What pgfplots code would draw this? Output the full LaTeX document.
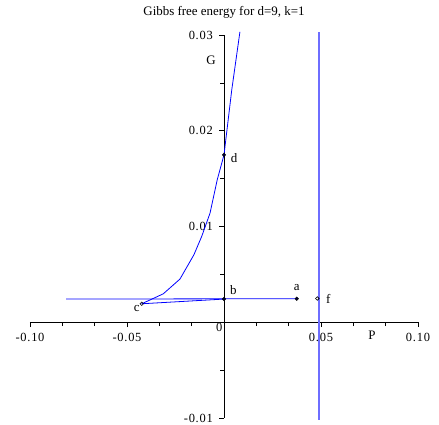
\documentclass[border=0pt]{standalone}
\usepackage{fontspec}
\setmainfont{Liberation Serif}
\newfontfamily\lblfont[LetterSpace=6]{Liberation Serif}
\usepackage{pgfplots}
\pgfplotsset{compat=1.18}
\definecolor{curve}{RGB}{0,0,255}
\definecolor{asym}{RGB}{110,110,255}
\newcommand\lbl{\lblfont\fontsize{12.5}{14}\selectfont}
\newcommand\pt{\rmfamily\fontsize{13}{15}\selectfont}

\begin{document}
\begin{tikzpicture}
\begin{axis}[
  scale only axis, width=388bp, height=383bp,
  xmin=-0.1, xmax=0.1, ymin=-0.01, ymax=0.03,
  clip=false,
  axis lines=middle,
  axis line style={-, black, line width=0.8pt},
  every tick/.style={black, line width=0.6pt},
  tick align=outside,
  major tick length=5bp, minor tick length=4bp,
  xtick={-0.1,-0.05,0.05,0.1},
  xticklabels={{\lbl -0.10},{\lbl -0.05},{\lbl 0.05},{\lbl 0.10}},
  minor xtick={-0.08333,-0.06667,-0.03333,-0.01667,0.01667,0.03333,0.06667,0.08333},
  ytick={-0.01,0.01,0.02,0.03},
  yticklabels={{\lbl -0.01},{\lbl 0.01},{\lbl 0.02},{\lbl 0.03}},
  minor ytick={-0.005,0.005,0.015,0.025},
  xticklabel style={anchor=center, inner sep=0pt, yshift=-10bp},
  yticklabel style={anchor=east, inner sep=0pt, xshift=-6bp},
  scaled ticks=false,
]
% upper branch, nearly flat
\addplot[curve, line width=0.8pt] coordinates {(-0.0814,0.00242) (0.0375,0.00246)};
% branch from the cusp c to b
\addplot[curve, line width=0.8pt] coordinates {(-0.0424,0.00193) (0,0.00242)};
% steep branch through d
\addplot[curve, line width=0.8pt] coordinates {
  (-0.0424,0.00193) (-0.0313,0.00297) (-0.0227,0.00451) (-0.0155,0.00705)
  (-0.0115,0.00896) (-0.0072,0.0114) (-0.0035,0.01487) (0,0.01748)
  (0.0040,0.02427) (0.0082,0.03032)};
% vertical line
\addplot[asym, line width=1.2pt] coordinates {(0.049,-0.0102) (0.049,0.0303)};
% marked points
\addplot[only marks, mark=*, mark size=1.8bp, mark options={black, fill=black!80!blue}]
  coordinates {(0.0375,0.00246) (0,0.00242) (0,0.01748)};
\addplot[only marks, mark=o, mark size=1.8bp, mark options={black, fill=white, line width=0.6pt}]
  coordinates {(-0.0424,0.00193) (0.0481,0.00248)};

\coordinate (bl) at (rel axis cs:0,0);
\coordinate (tr) at (rel axis cs:1,1);

\begin{scope}[every node/.style={inner sep=0pt}]
\node at ([yshift=10.7bp]axis cs:0.0375,0.00246) {\pt a};
\node at ([xshift=9.3bp, yshift=8.6bp]axis cs:0,0.00242) {\pt b};
\node at ([xshift=-5bp, yshift=-4.3bp]axis cs:-0.0424,0.00193) {\pt c};
\node at ([xshift=10bp, yshift=-2.7bp]axis cs:0,0.01748) {\pt d};
\node at ([xshift=11bp]axis cs:0.0481,0.00248) {\pt f};
\node at ([yshift=-13.5bp]axis cs:0.0763,0) {\pt P};
\node at ([xshift=-13bp]axis cs:0,0.0274) {\pt G};
\node[anchor=north east] at ([xshift=-1.5bp, yshift=-0.5bp]axis cs:0,0) {\lbl 0};
\node at ([yshift=23bp]rel axis cs:0.5,1) {\rmfamily\fontsize{13}{16}\selectfont Gibbs free energy for d=9, k=1};
\end{scope}
\end{axis}
\pgfresetboundingbox
\path ([shift={(-30bp,-7bp)}]bl) rectangle ([shift={(21bp,35bp)}]tr);
\end{tikzpicture}
\end{document}
